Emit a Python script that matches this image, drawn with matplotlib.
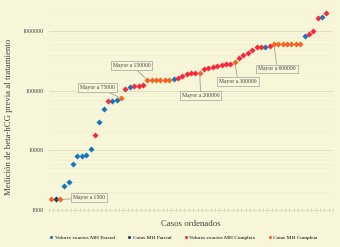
import matplotlib
matplotlib.use("Agg")
import matplotlib.pyplot as plt
from matplotlib.ticker import FixedLocator, NullFormatter, LogLocator

plt.rcParams["font.family"] = "Liberation Serif"

# beta-hCG por caso, ordenado (valor, tipo)
# tipo: VP = valores exactos MH parcial, CP = cotas MH parcial,
#       VC = valores exactos MH completa, CC = cotas MH completa
valores = [1500, 1500, 1500, 2550, 3000, 6000, 8100, 8100, 8500, 10400,
           18000, 30000, 49000, 67000, 67000, 69000, 75000, 105000, 115000, 120000,
           120000, 125000, 150000, 150000, 150000, 150000, 150000, 150000, 157000, 161000,
           178000, 188000, 195000, 198000, 200000, 231000, 240000, 249000, 259000, 273000,
           277000, 283000, 300000, 353000, 396000, 423000, 481000, 530000, 540000, 550000,
           571000, 600000, 600000, 600000, 600000, 600000, 600000, 600000, 834000, 881000,
           1010000, 1630000, 1720000, 2030000]
tipos = ["CC", "CP", "CC", "VP", "VP", "VP", "VP", "VP", "VP", "VP",
         "VC", "VP", "VP", "VC", "VP", "VP", "CC", "VC", "VP", "VC",
         "VC", "VC", "CC", "CC", "CC", "CC", "CC", "CC", "VP", "VC",
         "VC", "VC", "VC", "VC", "CC", "VC", "VC", "VC", "VC", "VC",
         "VC", "VC", "CC", "VC", "VC", "VC", "VC", "VC", "VC", "VP",
         "VC", "CC", "CC", "CC", "CC", "CC", "CC", "CC", "VP", "VC",
         "VC", "VC", "VP", "VC"]
series = [("VP", "Valores exactos MH Parcial", "#1874bd"),
          ("CP", "Cotas MH Parcial", "#1f3a68"),
          ("VC", "Valores exactos MH Completa", "#f5293b"),
          ("CC", "Cotas MH Completa", "#f26522")]

# etiquetas: (indice del caso, texto, x caja, y caja)
etiquetas = [(3, "Mayor a 1500", 9.7, 1600),
             (17, "Mayor a 75000", 11.6, 115000),
             (23, "Mayor a 150000", 19.4, 269000),
             (35, "Mayor a 200000", 35.2, 81500),
             (43, "Mayor a 300000", 43.8, 140000),
             (52, "Mayor a 600000", 52.7, 231000)]

bg = "#f8f6d9"
fig = plt.figure(figsize=(3.4, 2.47), dpi=100, facecolor=bg)
ax = fig.add_axes([49 / 340, 1 - 210 / 247, 284 / 340, 207 / 247], facecolor=bg)

casos = list(range(1, len(valores) + 1))
for code, nombre, color in series:
    xs = [c for c, t in zip(casos, tipos) if t == code]
    ys = [v for v, t in zip(valores, tipos) if t == code]
    ax.plot(xs, ys, linestyle="none", marker="D", markersize=3.1, color=color,
            markeredgewidth=0, label=nombre, zorder=3)

for idx, texto, xb, yb in etiquetas:
    ax.annotate(texto, xy=(idx, valores[idx - 1]), xytext=(xb, yb),
                fontsize=4.1, color="#404040",
                ha="center", va="center", zorder=4,
                bbox=dict(boxstyle="square,pad=0.35", fc=bg, ec="#a0a0a0", lw=0.5),
                arrowprops=dict(arrowstyle="-", color="#909090", lw=0.5,
                                shrinkA=0, shrinkB=2))

ax.set_yscale("log")
ax.set_ylim(1000, 2.95e6)
ax.set_xlim(0.5, 65.5)
ax.yaxis.set_major_locator(FixedLocator([1000, 10000, 100000, 1000000]))
ax.yaxis.set_minor_locator(LogLocator(base=10, subs=range(2, 10)))
ax.yaxis.set_minor_formatter(NullFormatter())
ax.set_yticklabels(["1000", "10000", "100000", "1000000"])
ax.tick_params(axis="y", which="both", length=0, labelsize=4.3, labelcolor="#404040", pad=4)
ax.grid(axis="y", which="major", color="#dcdac0", lw=0.6)
ax.grid(axis="y", which="minor", color="#efedd2", lw=0.4)
ax.set_axisbelow(True)

ax.xaxis.set_major_locator(FixedLocator([i + 0.5 for i in range(0, 66)]))
ax.tick_params(axis="x", which="major", direction="inout", length=3, width=0.4,
               color="#c8c6b0", labelbottom=False)
for s in ["top", "right", "left"]:
    ax.spines[s].set_visible(False)
ax.spines["bottom"].set_color("#d6d4bc")
ax.spines["bottom"].set_linewidth(0.5)

ax.set_xlabel("Casos ordenados", fontsize=6.3, color="#404040", labelpad=6)
ax.set_ylabel("Medición de beta-hCG previa al tratamiento", fontsize=6.3,
              color="#404040", labelpad=4)
ax.yaxis.set_label_coords(-0.125, 0.45)

leg = fig.legend(loc="lower center", bbox_to_anchor=(0.54, 0.01), ncol=4, frameon=False,
                 fontsize=3.9, markerscale=0.7, handlelength=0.6, handletextpad=0.3,
                 columnspacing=2.4)
for h in leg.legend_handles:
    h.set_marker("o")

fig.savefig("out.png", dpi=100, facecolor=bg)
